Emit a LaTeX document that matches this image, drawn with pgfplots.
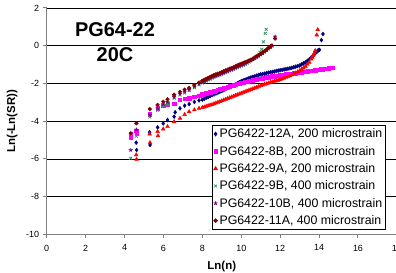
\documentclass[border=0pt]{standalone}
\usepackage{fontspec}
\setmainfont{Liberation Sans}
\usepackage{pgfplots}
\pgfplotsset{compat=1.18}
\definecolor{cA}{RGB}{0,0,128}
\definecolor{cB}{RGB}{255,0,255}
\definecolor{cC}{RGB}{255,0,0}
\definecolor{cD}{RGB}{51,153,102}
\definecolor{cE}{RGB}{128,0,128}
\definecolor{cF}{RGB}{128,0,0}
\begin{document}
\begin{tikzpicture}[x=1bp,y=1bp]
\begin{axis}[
  at={(46.7bp,38.7bp)}, anchor=south west,
  scale only axis, width=350.2bp, height=226.3bp,
  xmin=0, xmax=18, ymin=-10, ymax=2,
  xtick={0,2,...,18}, ytick={-10,-8,...,0},
  extra y ticks={2}, extra y tick style={grid style={gray, line width=0.8bp}},
  ymajorgrids, major grid style={black, line width=0.7bp},
  axis x line*=bottom, axis y line*=left,
  axis line style={gray, line width=1.5bp},
  tick align=outside, major tick length=4bp, tick style={gray, line width=1bp},
  ticklabel style={font=\fontsize{9}{10}\selectfont},
  xticklabel style={yshift=-3bp},
  /pgf/number format/assume math mode=true,
  xlabel={Ln(n)}, ylabel={Ln(-Ln(SR))},
  xlabel shift=3bp, ylabel shift=-6bp,
  label style={font=\bfseries\fontsize{11.5}{13}\selectfont},
  legend style={at={(0.969,0.483)}, anchor=north east, draw=black, line width=0.6bp,
    font=\fontsize{12.4}{14}\selectfont, row sep=2.9bp, inner sep=1.5bp, cells={anchor=west}},
  legend image code/.code={\draw[mark repeat=2,mark phase=2] plot coordinates {(0bp,0bp) (7.5bp,0bp) (15bp,0bp)};},
  legend cell align=left,
  clip=false,
]
\addplot[only marks, mark=diamond*, mark size=2bp, color=cA] coordinates {
(4.60,-5.14) (4.62,-5.53) (5.29,-4.59) (5.31,-5.26) (5.70,-4.33) (5.99,-4.12) (6.21,-3.94) (6.55,-3.76) (6.60,-3.53) (6.85,-3.32) (7.09,-3.18) (7.32,-3.10) (7.59,-2.98) (7.83,-2.90)
(8.0,-2.86) (8.1,-2.81) (8.2,-2.76) (8.3,-2.72) (8.4,-2.67) (8.5,-2.62) (8.6,-2.58) (8.7,-2.53) (8.8,-2.49) (8.9,-2.44) (9.0,-2.40) (9.1,-2.35) (9.2,-2.30) (9.3,-2.25) (9.4,-2.20) (9.5,-2.15) (9.6,-2.10) (9.7,-2.04) (9.8,-1.99) (9.9,-1.93) (10.0,-1.88) (10.1,-1.84) (10.2,-1.80) (10.3,-1.76) (10.4,-1.72) (10.5,-1.68) (10.6,-1.65) (10.7,-1.62) (10.8,-1.58) (10.9,-1.55) (11.0,-1.52) (11.1,-1.50) (11.2,-1.48) (11.3,-1.45) (11.4,-1.43) (11.5,-1.41) (11.6,-1.39) (11.7,-1.37) (11.8,-1.34) (11.9,-1.32) (12.0,-1.30) (12.1,-1.28) (12.2,-1.26) (12.3,-1.24) (12.4,-1.22) (12.5,-1.20) (12.6,-1.17) (12.7,-1.14) (12.8,-1.11) (12.9,-1.08) (13.0,-1.05) (13.1,-0.99) (13.2,-0.94) (13.3,-0.88) (13.4,-0.80) (13.5,-0.72) (13.6,-0.62) (13.7,-0.52) (13.8,-0.41) (13.9,-0.31) (13.96,-0.24) (14.02,-0.22) (14.12,0.30) (14.20,0.62)
};
\addlegendentry{PG6422-12A, 200 microstrain}
\addplot[only marks, mark=square*, mark size=1.7bp, color=cB] coordinates {
(4.32,-4.70) (4.33,-4.88) (4.61,-4.50) (4.62,-4.66) (5.30,-3.64) (5.70,-3.32) (5.99,-3.18) (6.21,-3.10) (6.55,-3.08) (6.85,-2.86) (7.09,-2.80) (7.32,-2.78) (7.59,-2.70) (7.83,-2.64)
(8.0,-2.58) (8.1,-2.55) (8.2,-2.52) (8.3,-2.50) (8.4,-2.47) (8.5,-2.44) (8.6,-2.41) (8.7,-2.38) (8.8,-2.34) (8.9,-2.31) (9.0,-2.28) (9.1,-2.25) (9.2,-2.22) (9.3,-2.18) (9.4,-2.15) (9.5,-2.12) (9.6,-2.09) (9.7,-2.06) (9.8,-2.03) (9.9,-2.00) (10.0,-1.97) (10.1,-1.95) (10.2,-1.92) (10.3,-1.90) (10.4,-1.87) (10.5,-1.85) (10.6,-1.83) (10.7,-1.81) (10.8,-1.78) (10.9,-1.76) (11.0,-1.74) (11.1,-1.72) (11.2,-1.70) (11.3,-1.68) (11.4,-1.66) (11.5,-1.64) (11.6,-1.62) (11.7,-1.61) (11.8,-1.59) (11.9,-1.58) (12.0,-1.56) (12.1,-1.55) (12.2,-1.53) (12.3,-1.52) (12.4,-1.50) (12.5,-1.49) (12.6,-1.48) (12.7,-1.46) (12.8,-1.45) (12.9,-1.43) (13.0,-1.42) (13.1,-1.40) (13.2,-1.39) (13.3,-1.37) (13.4,-1.36) (13.5,-1.34) (13.6,-1.33) (13.7,-1.31) (13.8,-1.30) (13.9,-1.28) (14.0,-1.27) (14.1,-1.25) (14.2,-1.24) (14.3,-1.22) (14.4,-1.21) (14.5,-1.19) (14.6,-1.17) (14.7,-1.16)
};
\addlegendentry{PG6422-8B, 200 microstrain}
\addplot[only marks, mark=triangle*, mark size=2.2bp, color=cC] coordinates {
(4.60,-5.79) (4.62,-6.02) (5.29,-4.68) (5.31,-5.14) (5.70,-4.55) (5.72,-4.78) (5.99,-4.42) (6.21,-4.29) (6.55,-4.03) (6.85,-3.85) (7.09,-3.65) (7.32,-3.50) (7.59,-3.40) (7.83,-3.32)
(8.0,-3.28) (8.1,-3.25) (8.2,-3.22) (8.3,-3.18) (8.4,-3.15) (8.5,-3.12) (8.6,-3.08) (8.7,-3.04) (8.8,-3.00) (8.9,-2.96) (9.0,-2.92) (9.1,-2.88) (9.2,-2.84) (9.3,-2.80) (9.4,-2.76) (9.5,-2.72) (9.6,-2.68) (9.7,-2.64) (9.8,-2.60) (9.9,-2.56) (10.0,-2.52) (10.1,-2.48) (10.2,-2.44) (10.3,-2.40) (10.4,-2.36) (10.5,-2.32) (10.6,-2.28) (10.7,-2.24) (10.8,-2.20) (10.9,-2.16) (11.0,-2.12) (11.1,-2.09) (11.2,-2.05) (11.3,-2.02) (11.4,-1.98) (11.5,-1.95) (11.6,-1.92) (11.7,-1.89) (11.8,-1.86) (11.9,-1.83) (12.0,-1.80) (12.1,-1.76) (12.2,-1.72) (12.3,-1.68) (12.4,-1.64) (12.5,-1.60) (12.6,-1.55) (12.7,-1.49) (12.8,-1.44) (12.9,-1.38) (13.0,-1.33) (13.1,-1.25) (13.2,-1.18) (13.3,-1.10) (13.4,-0.99) (13.5,-0.88) (13.6,-0.71) (13.65,-0.62) (13.7,-0.51) (13.75,-0.40) (13.8,-0.26) (13.88,0.57) (13.93,0.85)
};
\addlegendentry{PG6422-9A, 200 microstrain}
\addplot[only marks, mark=x, mark size=2bp, line width=0.8bp, color=cD] coordinates {
(4.32,-5.97) (4.61,-4.80) (5.30,-3.78) (5.70,-3.42) (5.99,-3.18) (6.21,-3.06) (6.55,-2.78) (6.85,-2.62) (7.09,-2.50) (7.32,-2.38) (7.59,-2.22) (7.83,-2.08)
(8.0,-1.98) (8.1,-1.93) (8.2,-1.88) (8.3,-1.82) (8.4,-1.77) (8.5,-1.72) (8.6,-1.68) (8.7,-1.64) (8.8,-1.60) (8.9,-1.56) (9.0,-1.52) (9.1,-1.48) (9.2,-1.43) (9.3,-1.39) (9.4,-1.34) (9.5,-1.30) (9.6,-1.26) (9.7,-1.21) (9.8,-1.17) (9.9,-1.12) (10.0,-1.08) (10.1,-1.04) (10.2,-0.99) (10.3,-0.93) (10.4,-0.87) (10.5,-0.80) (10.6,-0.73) (10.7,-0.65) (10.8,-0.55) (10.9,-0.45) (10.97,-0.35) (11.05,-0.19) (11.14,0.21) (11.23,0.66) (11.28,0.87)
};
\addlegendentry{PG6422-9B, 400 microstrain}
\addplot[only marks, mark=star, mark size=2bp, line width=0.8bp, color=cE] coordinates {
(4.32,-5.53) (4.61,-4.45) (5.30,-3.67) (5.70,-3.32) (5.99,-3.10) (6.21,-2.98) (6.55,-2.72) (6.85,-2.55) (7.09,-2.43) (7.32,-2.32) (7.59,-2.16) (7.83,-2.02)
(8.0,-1.93) (8.1,-1.88) (8.2,-1.83) (8.3,-1.77) (8.4,-1.72) (8.5,-1.67) (8.6,-1.63) (8.7,-1.59) (8.8,-1.55) (8.9,-1.51) (9.0,-1.47) (9.1,-1.43) (9.2,-1.38) (9.3,-1.34) (9.4,-1.29) (9.5,-1.25) (9.6,-1.21) (9.7,-1.16) (9.8,-1.12) (9.9,-1.07) (10.0,-1.03) (10.1,-0.99) (10.2,-0.94) (10.3,-0.89) (10.4,-0.84) (10.5,-0.79) (10.6,-0.73) (10.7,-0.67) (10.8,-0.60) (10.9,-0.54) (11.0,-0.47) (11.1,-0.40) (11.2,-0.32) (11.3,-0.24) (11.4,-0.16) (11.5,-0.08) (11.6,0.00) (11.74,0.48)
};
\addlegendentry{PG6422-10B, 400 microstrain}
\addplot[only marks, mark=*, mark size=1.9bp, color=cF] coordinates {
(4.32,-4.64) (4.61,-4.11) (5.30,-3.36) (5.70,-3.14) (5.99,-2.97) (6.21,-2.84) (6.55,-2.60) (6.85,-2.44) (7.09,-2.33) (7.32,-2.24) (7.59,-2.08) (7.83,-1.95)
(8.0,-1.86) (8.1,-1.81) (8.2,-1.76) (8.3,-1.70) (8.4,-1.65) (8.5,-1.60) (8.6,-1.56) (8.7,-1.52) (8.8,-1.48) (8.9,-1.44) (9.0,-1.40) (9.1,-1.36) (9.2,-1.31) (9.3,-1.27) (9.4,-1.22) (9.5,-1.18) (9.6,-1.14) (9.7,-1.09) (9.8,-1.05) (9.9,-1.00) (10.0,-0.96) (10.1,-0.92) (10.2,-0.87) (10.3,-0.83) (10.4,-0.78) (10.5,-0.74) (10.6,-0.68) (10.7,-0.62) (10.8,-0.56) (10.9,-0.50) (11.0,-0.43) (11.1,-0.36) (11.2,-0.28) (11.3,-0.20) (11.4,-0.11) (11.5,-0.04) (11.55,0.00) (11.74,0.38)
};
\addlegendentry{PG6422-11A, 400 microstrain}
\node[font=\bfseries\fontsize{20}{24}\selectfont] at (axis cs:3.51,0.83) {PG64-22};
\node[font=\bfseries\fontsize{20}{24}\selectfont] at (axis cs:3.51,-0.49) {20C};
\end{axis}
\pgfresetboundingbox
\useasboundingbox (0,0) rectangle (396bp,273bp);
\end{tikzpicture}
\end{document}
